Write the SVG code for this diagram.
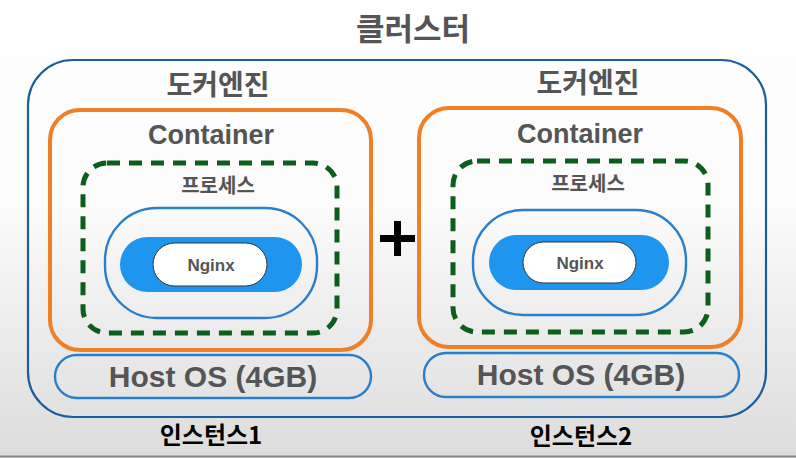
<svg xmlns="http://www.w3.org/2000/svg" width="796" height="458" viewBox="0 0 796 458">
  <defs>
    <linearGradient id="bg" x1="0" y1="0" x2="0" y2="1">
      <stop offset="0" stop-color="#ffffff"/>
      <stop offset="0.45" stop-color="#fbfbfb"/>
      <stop offset="1" stop-color="#dcdcdc"/>
    </linearGradient>
  </defs>
  <style>
    .ko { font-family: "Noto Sans CJK KR", "Noto Sans", sans-serif; font-weight: 700; text-anchor: middle; }
    .en { font-family: "Liberation Sans", "Noto Sans", sans-serif; font-weight: 700; text-anchor: middle; }
    .gray { fill: #555555; }
    .outer { fill: none; stroke: #1b5e9e; stroke-width: 2.2; }
    .docker { fill: none; stroke: #f08028; stroke-width: 4; }
    .proc { fill: none; stroke: #0c5e1c; stroke-width: 5; stroke-dasharray: 13 9; }
    .pill { fill: none; stroke: #2a7fc9; stroke-width: 2.4; }
    .nginx { fill: #1e95ef; }
    .nginx-in { fill: #ffffff; stroke: #333333; stroke-width: 1; }
    .host { fill: none; stroke: #2a7fc9; stroke-width: 2.4; }
  </style>
  <rect x="0" y="0" width="796" height="458" fill="url(#bg)"/>
  <line x1="0" y1="456.5" x2="796" y2="456.5" stroke="#8a8a8a" stroke-width="2"/>

  <g id="cluster">
    <rect class="outer" x="28" y="60" width="738" height="357" rx="45"/>
    <text class="ko gray" x="413" y="40" font-size="31">클러스터</text>
  </g>

  <g id="plus">
    <rect x="380" y="235" width="35" height="7" fill="#000"/>
    <rect x="394" y="221" width="7" height="35" fill="#000"/>
  </g>

  <!-- Instance 1 -->
  <g id="docker-engine-1">
    <text class="ko gray" x="218" y="95" font-size="28">도커엔진</text>
  </g>
  <g id="container-1">
    <rect class="docker" x="50" y="110" width="321" height="240" rx="30"/>
    <text class="en gray" x="211" y="144" font-size="27">Container</text>
  </g>
  <g id="process-1">
    <rect class="proc" x="83" y="163" width="254" height="170" rx="24"/>
    <text class="ko gray" x="218" y="193" font-size="20">프로세스</text>
  </g>
  <g id="process-pill-1">
    <rect class="pill" x="105" y="208" width="212" height="110" rx="52"/>
  </g>
  <g id="nginx-1">
    <rect class="nginx" x="120" y="237" width="182" height="55" rx="27.5"/>
    <rect class="nginx-in" x="153" y="243" width="114" height="43" rx="21.5"/>
    <text class="en gray" x="211" y="271" font-size="17">Nginx</text>
  </g>
  <g id="host-os-1">
    <rect class="host" x="55" y="355" width="316" height="43" rx="21.5"/>
    <text class="en gray" x="213" y="387" font-size="30">Host OS (4GB)</text>
  </g>
  <g id="instance-1">
    <text class="ko" x="211" y="444" font-size="24" fill="#000">인스턴스1</text>
  </g>

  <!-- Instance 2 -->
  <g id="docker-engine-2">
    <text class="ko gray" x="588" y="93" font-size="28">도커엔진</text>
  </g>
  <g id="container-2">
    <rect class="docker" x="419" y="108" width="322" height="239" rx="30"/>
    <text class="en gray" x="580" y="143" font-size="27">Container</text>
  </g>
  <g id="process-2">
    <rect class="proc" x="453" y="161" width="255" height="171" rx="24"/>
    <text class="ko gray" x="588" y="191" font-size="20">프로세스</text>
  </g>
  <g id="process-pill-2">
    <rect class="pill" x="473" y="210" width="213" height="105" rx="50"/>
  </g>
  <g id="nginx-2">
    <rect class="nginx" x="489" y="235" width="180" height="55" rx="27.5"/>
    <rect class="nginx-in" x="523" y="242" width="113" height="41" rx="20.5"/>
    <text class="en gray" x="580" y="269" font-size="17">Nginx</text>
  </g>
  <g id="host-os-2">
    <rect class="host" x="424" y="353" width="315" height="44" rx="22"/>
    <text class="en gray" x="581" y="385" font-size="30">Host OS (4GB)</text>
  </g>
  <g id="instance-2">
    <text class="ko" x="581" y="445" font-size="24" fill="#000">인스턴스2</text>
  </g>

  <g id="connectors"></g>
</svg>
